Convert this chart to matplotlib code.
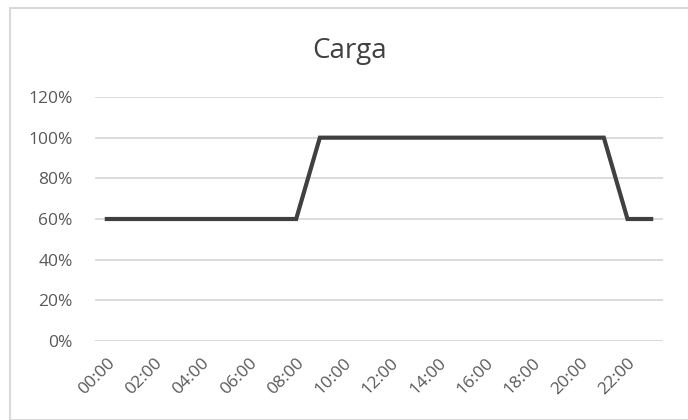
import matplotlib.pyplot as plt
from matplotlib.patches import Rectangle
from matplotlib.ticker import PercentFormatter

# hourly load profile, fraction of rated load
hours = [f"{h:02d}:00" for h in range(24)]
carga = [0.6, 0.6, 0.6, 0.6, 0.6, 0.6, 0.6, 0.6, 0.6,
         1.0, 1.0, 1.0, 1.0, 1.0, 1.0, 1.0, 1.0, 1.0, 1.0, 1.0, 1.0, 1.0,
         0.6, 0.6]
y_ticks = [0, 0.2, 0.4, 0.6, 0.8, 1.0, 1.2]

plt.rcParams['font.family'] = ['Open Sans', 'DejaVu Sans']

fig = plt.figure(figsize=(6.88, 4.2), dpi=100)
fig.patches.append(Rectangle((10 / 688, 0), 1.0, (420 - 8) / 420, transform=fig.transFigure,
                             fill=False, edgecolor='#d9d9d9', linewidth=1.5))

ax = fig.add_axes([95 / 688, (420 - 341) / 420, (663 - 95) / 688, (341 - 97) / 420])
x = list(range(len(hours)))
ax.plot(x, carga, color='#404040', linewidth=3, solid_joinstyle='miter', zorder=3)

ax.set_xlim(-0.5, 23.5)
ax.set_ylim(0, 1.2)
ax.set_yticks(y_ticks)
ax.yaxis.set_major_formatter(PercentFormatter(1.0, decimals=0))
ax.set_xticks(x[::2])
ax.set_xticklabels(hours[::2], rotation=45, ha='right', rotation_mode='anchor')
ax.tick_params(axis='both', length=0, labelsize=12.5, colors='#595959')
ax.tick_params(axis='y', pad=16)
ax.tick_params(axis='x', pad=10)
ax.grid(axis='y', color='#d9d9d9', linewidth=1.3)
ax.axhline(0, color='#d9d9d9', linewidth=2, zorder=1)
for s in ax.spines.values():
    s.set_visible(False)
ax.set_axisbelow(True)

fig.text(350 / 688, 1 - 58 / 420, "Carga", ha='center', va='baseline', fontsize=20, color='#404040')

fig.savefig('out.png', dpi=100)
